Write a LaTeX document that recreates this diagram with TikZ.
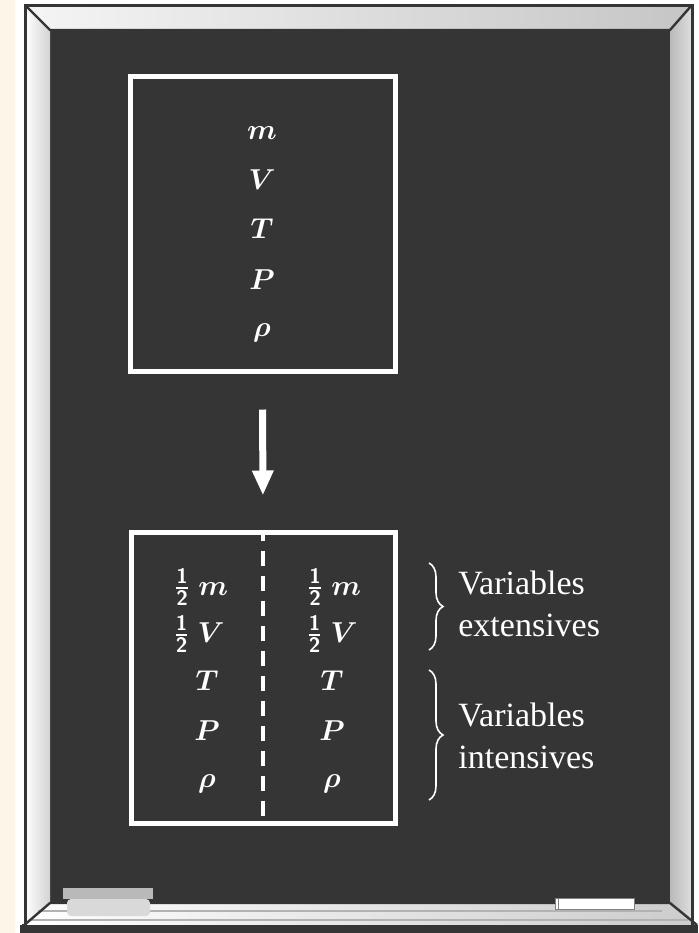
\documentclass[tikz,border=0pt]{standalone}
\usepackage{amsmath}
\usepackage{fontspec}
\setmainfont{Liberation Serif}
\usetikzlibrary{arrows.meta,decorations.pathreplacing}
\definecolor{board}{HTML}{353535}
\definecolor{cream}{HTML}{FDF6E8}
\newcommand{\halfdigit}[1]{\mbox{\fontsize{10.5}{10.5}\selectfont\sffamily\bfseries #1}}
\newcommand{\half}{\genfrac{}{}{0.6pt}{1}{\halfdigit{1}}{\halfdigit{2}}}

\begin{document}
\begin{tikzpicture}[x=0.5pt, y=-0.5pt,
        box/.style = {draw=white, line width=2.5pt, minimum width=132.5pt, minimum height=147.5pt, inner sep=0pt},
        var/.style = {text=white, font=\fontsize{15}{17}\selectfont, inner sep=0pt},
        label/.style = {text=white, font=\fontsize{17}{21}\selectfont, align=left, anchor=west, inner sep=0pt},
        arrowdown/.style = {white, line width=3.5pt, -{Triangle[width=10pt, length=12.5pt]}},
        halfline/.style = {white, line width=1.6pt, dash pattern=on 7.5pt off 5pt, dash phase=2pt},
        curly/.style = {white, line width=0.8pt, decorate, decoration={brace, amplitude=7pt}}]
            \useasboundingbox (0,0) rectangle (698,933);
            \fill[white] (0,0) rectangle (698,933);
            \fill[cream] (0,0) rectangle (15,933);
            \fill[board] (50,30) rectangle (670,903);
            \shade[left color=gray!8, right color=gray!45] (25,5) -- (692,5) -- (670,30) -- (50,30) -- cycle;
            \shade[left color=white, right color=gray!35] (25,5) -- (50,30) -- (50,903) -- (25,925) -- cycle;
            \shade[left color=gray!55, right color=gray!25] (692,5) -- (692,925) -- (670,903) -- (670,30) -- cycle;
            \shade[left color=white, right color=gray!40] (50,903) -- (670,903) -- (697,925) -- (22,925) -- cycle;
            \fill[board] (20,925) rectangle (698,933);
            \draw[gray!60, line width=0.6pt] (38,911) -- (662,911);
            \draw[gray!60, line width=0.6pt] (30,920) -- (688,920);
            \draw[board, line width=1.5pt] (22,925) -- (25,925) -- (25,5) -- (692,5) -- (692,925);
            \draw[board, line width=1.2pt] (25,5) -- (50,30) -- (670,30) -- (692,5);
            \draw[board, line width=1.2pt] (22,927) -- (50,903) -- (670,903) -- (697,925);
            \fill[gray!55] (63,888) rectangle (153,899);
            \fill[gray!30, rounded corners=2pt] (67,899) rectangle (150,916);
            \filldraw[fill=white, draw=gray, line width=0.4pt] (555,898) rectangle (634,909);
            \draw[gray, line width=0.4pt] (558,898) -- (558,909);

            \node[box] (whole) at (262.5,223.5) {};
            \node[var] (m0) at (262,133) {$\boldsymbol{m}$};
            \node[var] (V0) at (262,180) {$\boldsymbol{V}$};
            \node[var] (T0) at (262,229) {$\boldsymbol{T}$};
            \node[var] (P0) at (262,280) {$\boldsymbol{P}$};
            \node[var] (rho0) at (262,333) {$\boldsymbol{\rho}$};

            \node[box, minimum width=132pt, minimum height=145.5pt] (halves) at (263,677.5) {};
            \draw[arrowdown, shorten <=18pt, shorten >=17pt] (whole.south) -- (halves.north);
            \draw[halfline] (halves.north) -- (halves.south);

            \node[var] (m1) at (201,587) {$\half\;\boldsymbol{m}$};
            \node[var] (V1) at (199,634) {$\half\;\boldsymbol{V}$};
            \node[var] (T1) at (207,681) {$\boldsymbol{T}$};
            \node[var] (P1) at (207,731) {$\boldsymbol{P}$};
            \node[var] (rho1) at (207,784) {$\boldsymbol{\rho}$};
            \node[var] (m2) at (334,587) {$\half\;\boldsymbol{m}$};
            \node[var] (V2) at (332,634) {$\half\;\boldsymbol{V}$};
            \node[var] (T2) at (332,681) {$\boldsymbol{T}$};
            \node[var] (P2) at (332,731) {$\boldsymbol{P}$};
            \node[var] (rho2) at (332,784) {$\boldsymbol{\rho}$};

            \coordinate (ext-top) at (429,563);
            \coordinate (ext-bot) at (429,650);
            \coordinate (int-top) at (429,670);
            \coordinate (int-bot) at (429,800);
            \draw[curly] (ext-top) -- (ext-bot);
            \draw[curly] (int-top) -- (int-bot);
            \node[label] (ext) at (458,604) {Variables\\extensives};
            \node[label] (int) at (458,736) {Variables\\intensives};
        \end{tikzpicture}
\end{document}
